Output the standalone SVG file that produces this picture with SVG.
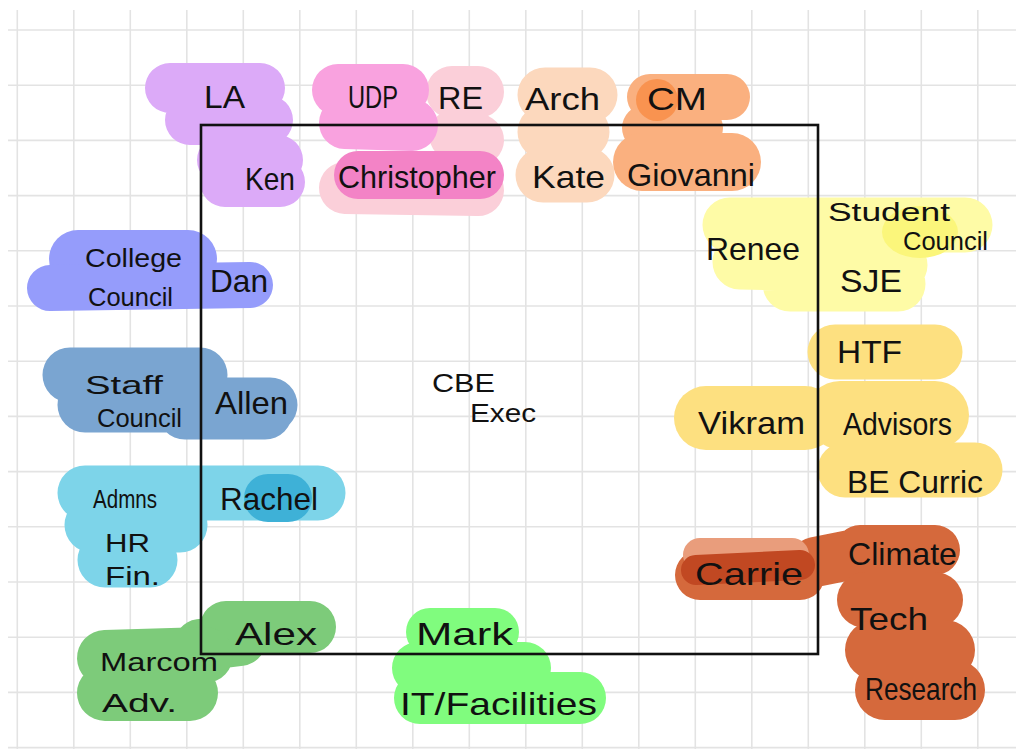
<svg xmlns="http://www.w3.org/2000/svg" width="1016" height="749" viewBox="0 0 1016 749">
<style>
.grid line{stroke:#e3e3e3;stroke-width:1.6}
.hl{fill:none;stroke-linecap:round;stroke-linejoin:round}
.t{font-family:"Liberation Sans","DejaVu Sans",sans-serif;font-size:32px;fill:#111}
.s{font-size:26px}
</style>
<rect width="1016" height="749" fill="#fff"/>
<g class="grid">
<line x1="17.3" y1="10" x2="17.3" y2="749"/><line x1="73.8" y1="10" x2="73.8" y2="749"/><line x1="130.3" y1="10" x2="130.3" y2="749"/><line x1="186.8" y1="10" x2="186.8" y2="749"/><line x1="243.3" y1="10" x2="243.3" y2="749"/><line x1="299.8" y1="10" x2="299.8" y2="749"/><line x1="356.3" y1="10" x2="356.3" y2="749"/><line x1="412.8" y1="10" x2="412.8" y2="749"/><line x1="469.3" y1="10" x2="469.3" y2="749"/><line x1="525.8" y1="10" x2="525.8" y2="749"/><line x1="582.3" y1="10" x2="582.3" y2="749"/><line x1="638.8" y1="10" x2="638.8" y2="749"/><line x1="695.3" y1="10" x2="695.3" y2="749"/><line x1="751.8" y1="10" x2="751.8" y2="749"/><line x1="808.3" y1="10" x2="808.3" y2="749"/><line x1="864.8" y1="10" x2="864.8" y2="749"/><line x1="921.3" y1="10" x2="921.3" y2="749"/><line x1="977.8" y1="10" x2="977.8" y2="749"/>
<line x1="8" y1="30" x2="1016" y2="30"/><line x1="8" y1="85.2" x2="1016" y2="85.2"/><line x1="8" y1="140.4" x2="1016" y2="140.4"/><line x1="8" y1="195.6" x2="1016" y2="195.6"/><line x1="8" y1="250.8" x2="1016" y2="250.8"/><line x1="8" y1="306" x2="1016" y2="306"/><line x1="8" y1="361.2" x2="1016" y2="361.2"/><line x1="8" y1="416.4" x2="1016" y2="416.4"/><line x1="8" y1="471.6" x2="1016" y2="471.6"/><line x1="8" y1="526.8" x2="1016" y2="526.8"/><line x1="8" y1="582" x2="1016" y2="582"/><line x1="8" y1="637.2" x2="1016" y2="637.2"/><line x1="8" y1="692.4" x2="1016" y2="692.4"/><line x1="8" y1="747.6" x2="1016" y2="747.6"/>
</g>
<g id="highlights">
<path class="hl" stroke="#dcaaf8" stroke-width="50" d="M170,88 L260,88 M190,120 L268,120 M222,160 L278,160 M225,182 L280,182"/>
<path class="hl" stroke="#fbcfd9" stroke-width="52" d="M452,92 L478,92 M455,135 L478,140 M345,188 L478,190"/>
<path class="hl" stroke="#f9a2df" stroke-width="52" d="M338,90 L403,90 M345,123 L412,125"/>
<path class="hl" stroke="#f383c6" stroke-width="48" d="M358,175 L480,175"/>
<path class="hl" stroke="#fcd8bd" stroke-width="55" d="M545,95 L590,95 M545,132 L582,132 M543,175 L587,175"/>
<path class="hl" stroke="#fab07f" stroke-width="46" d="M650,97 L727,97 M645,128 L700,128"/>
<path class="hl" stroke="#fab07f" stroke-width="58" d="M642,162 L732,162"/>
<circle cx="657" cy="100" r="21" fill="#f99350"/>
<path class="hl" stroke="#fefba6" stroke-width="55" d="M730,225 L965,225 M740,262 L900,265 M790,284 L898,284"/>
<ellipse cx="920" cy="232" rx="38" ry="26" fill="#fbf67b"/>
<path class="hl" stroke="#959cfb" stroke-width="58" d="M78,259 L188,259"/>
<path class="hl" stroke="#959cfb" stroke-width="46" d="M50,288 L250,285"/>
<path class="hl" stroke="#7aa5d1" stroke-width="55" d="M70,375 L200,375 M85,405 L270,405 M185,412 L265,412"/>
<path class="hl" stroke="#7dd4e9" stroke-width="55" d="M85,493 L318,493 M92,525 L180,525 M105,560 L150,560"/>
<path class="hl" stroke="#3eb1d7" stroke-width="48" d="M268,498 L288,498"/>
<path class="hl" stroke="#7dcb7a" stroke-width="52" d="M226,627 L310,627 M200,645 L240,640"/>
<path class="hl" stroke="#7dcb7a" stroke-width="56" d="M105,658 L205,655 M105,693 L190,693"/>
<path class="hl" stroke="#80fc7e" stroke-width="48" d="M430,632 L495,632"/>
<path class="hl" stroke="#80fc7e" stroke-width="52" d="M418,668 L525,668 M420,698 L580,698"/>
<path class="hl" stroke="#fde080" stroke-width="55" d="M835,352 L935,352 M845,470 L975,470"/>
<path class="hl" stroke="#fde080" stroke-width="68" d="M840,415 L935,415"/>
<path class="hl" stroke="#fde080" stroke-width="64" d="M706,418 L805,418"/>
<path class="hl" stroke="#d5693c" stroke-width="50" d="M700,575 L800,575 M815,562 L850,555 M860,550 L935,550"/>
<path class="hl" stroke="#d5693c" stroke-width="56" d="M865,600 L935,600"/>
<path class="hl" stroke="#d5693c" stroke-width="60" d="M875,650 L945,650 M885,690 L955,690"/>
<path class="hl" stroke="#e99d7c" stroke-width="34" d="M700,555 L792,555"/>
<path class="hl" stroke="#c14822" stroke-width="30" d="M696,570 L800,565"/>
</g>
<g id="cbe-exec">
<rect x="201" y="125" width="617" height="529" fill="none" stroke="#111" stroke-width="2.6"/>
<text class="t s" x="432" y="392" textLength="63" lengthAdjust="spacingAndGlyphs">CBE</text>
<text class="t s" x="470" y="422" textLength="66" lengthAdjust="spacingAndGlyphs">Exec</text>
</g>
<g id="la-ken">
<text class="t" x="204" y="108" textLength="41" lengthAdjust="spacingAndGlyphs">LA</text>
<text class="t" x="245" y="190" textLength="50" lengthAdjust="spacingAndGlyphs">Ken</text>
</g>
<g id="udp-christopher">
<text class="t" x="348" y="108" textLength="50" lengthAdjust="spacingAndGlyphs">UDP</text>
<text class="t" x="338" y="188" textLength="158" lengthAdjust="spacingAndGlyphs">Christopher</text>
</g>
<g id="re">
<text class="t" x="438" y="109" textLength="45" lengthAdjust="spacingAndGlyphs">RE</text>
</g>
<g id="arch-kate">
<text class="t" x="525" y="110" textLength="75" lengthAdjust="spacingAndGlyphs">Arch</text>
<text class="t" x="532" y="188" textLength="73" lengthAdjust="spacingAndGlyphs">Kate</text>
</g>
<g id="cm-giovanni">
<text class="t" x="647" y="110" textLength="60" lengthAdjust="spacingAndGlyphs">CM</text>
<text class="t" x="627" y="186" textLength="128" lengthAdjust="spacingAndGlyphs">Giovanni</text>
</g>
<g id="renee-student">
<text class="t" x="706" y="260" textLength="94" lengthAdjust="spacingAndGlyphs">Renee</text>
<text class="t s" x="828" y="221" textLength="122" lengthAdjust="spacingAndGlyphs">Student</text>
<text class="t s" x="903" y="250" textLength="85" lengthAdjust="spacingAndGlyphs">Council</text>
<text class="t" x="840" y="292" textLength="62" lengthAdjust="spacingAndGlyphs">SJE</text>
</g>
<g id="dan-college">
<text class="t s" x="85" y="267" textLength="97" lengthAdjust="spacingAndGlyphs">College</text>
<text class="t s" x="88" y="306" textLength="85" lengthAdjust="spacingAndGlyphs">Council</text>
<text class="t" x="210" y="292" textLength="58" lengthAdjust="spacingAndGlyphs">Dan</text>
</g>
<g id="allen-staff">
<text class="t s" x="85" y="394" textLength="78" lengthAdjust="spacingAndGlyphs">Staff</text>
<text class="t s" x="97" y="427" textLength="85" lengthAdjust="spacingAndGlyphs">Council</text>
<text class="t" x="215" y="414" textLength="73" lengthAdjust="spacingAndGlyphs">Allen</text>
</g>
<g id="rachel-admns">
<text class="t s" x="93" y="508" textLength="64" lengthAdjust="spacingAndGlyphs">Admns</text>
<text class="t s" x="105" y="552" textLength="45" lengthAdjust="spacingAndGlyphs">HR</text>
<text class="t s" x="105" y="585" textLength="55" lengthAdjust="spacingAndGlyphs">Fin.</text>
<text class="t" x="220" y="510" textLength="98" lengthAdjust="spacingAndGlyphs">Rachel</text>
</g>
<g id="alex-marcom">
<text class="t" x="235" y="645" textLength="82" lengthAdjust="spacingAndGlyphs">Alex</text>
<text class="t s" x="100" y="671" textLength="118" lengthAdjust="spacingAndGlyphs">Marcom</text>
<text class="t s" x="102" y="712" textLength="75" lengthAdjust="spacingAndGlyphs">Adv.</text>
</g>
<g id="mark-it">
<text class="t" x="416" y="645" textLength="97" lengthAdjust="spacingAndGlyphs">Mark</text>
<text class="t" x="400" y="715" textLength="197" lengthAdjust="spacingAndGlyphs">IT/Facilities</text>
</g>
<g id="vikram-htf">
<text class="t" x="698" y="434" textLength="107" lengthAdjust="spacingAndGlyphs">Vikram</text>
<text class="t" x="837" y="363" textLength="65" lengthAdjust="spacingAndGlyphs">HTF</text>
<text class="t" x="843" y="435" textLength="109" lengthAdjust="spacingAndGlyphs">Advisors</text>
<text class="t" x="847" y="493" textLength="136" lengthAdjust="spacingAndGlyphs">BE Curric</text>
</g>
<g id="carrie-climate">
<text class="t" x="695" y="585" textLength="108" lengthAdjust="spacingAndGlyphs">Carrie</text>
<text class="t" x="848" y="565" textLength="109" lengthAdjust="spacingAndGlyphs">Climate</text>
<text class="t" x="850" y="630" textLength="78" lengthAdjust="spacingAndGlyphs">Tech</text>
<text class="t" x="865" y="700" textLength="112" lengthAdjust="spacingAndGlyphs">Research</text>
</g>
</svg>
